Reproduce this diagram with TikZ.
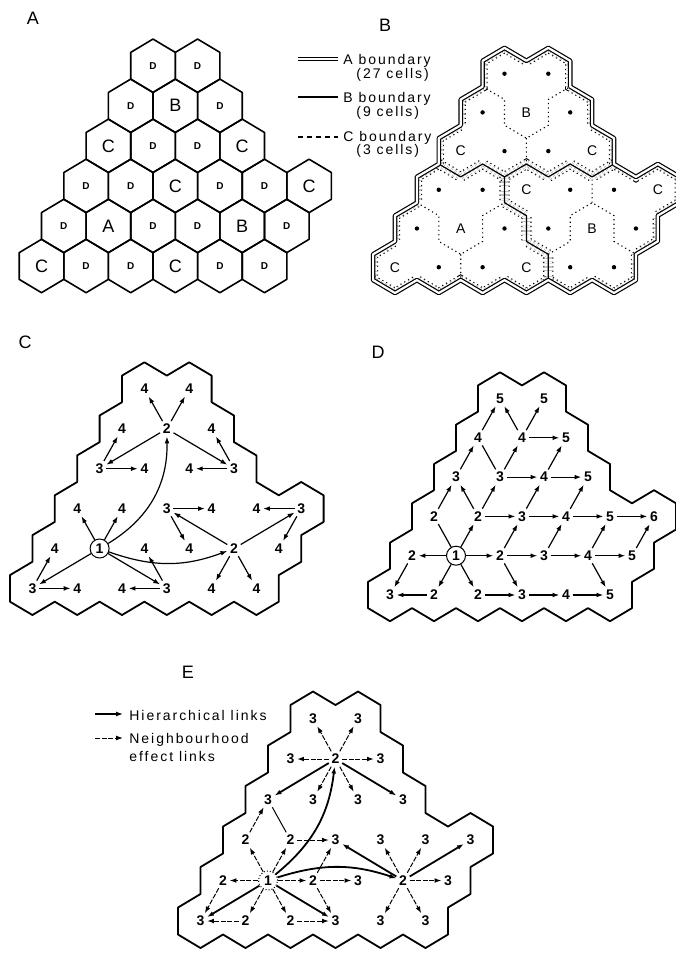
\documentclass[tikz,border=0pt]{standalone}
\usepackage{fontspec}
\setmainfont{Liberation Sans}
\usetikzlibrary{arrows.meta}

% outline of the 27 cells and of one cell, in lattice units
\newcommand{\regionpath}{(-1,-1) -- (-1,1) -- (0,2) -- (0,4) -- (1,5) -- (1,7) -- (2,8) -- (2,10) -- (3,11) -- (3,13) -- (4,14) -- (4,16) -- (5,17) -- (6,16) -- (7,17) -- (8,16) -- (8,14) -- (9,13) -- (9,11) -- (10,10) -- (10,8) -- (11,7) -- (12,8) -- (13,7) -- (13,5) -- (12,4) -- (12,2) -- (11,1) -- (11,-1) -- (10,-2) -- (9,-1) -- (8,-2) -- (7,-1) -- (6,-2) -- (5,-1) -- (4,-2) -- (3,-1) -- (2,-2) -- (1,-1) -- (0,-2) -- cycle}
\newcommand{\hexpath}{(0,2) -- (1,1) -- (1,-1) -- (0,-2) -- (-1,-1) -- (-1,1) -- cycle}

\begin{document}
\begin{tikzpicture}[x=0.5pt, y=-0.5pt, >={Latex[length=3.4pt,width=2.4pt]},
  hx/.style={line width=0.8pt, line join=round},
  rim/.style={line width=0.9pt, line join=round},
  lbl/.style={font=\fontsize{9}{9}\selectfont, inner sep=0pt},
  big/.style={font=\fontsize{9}{9}\selectfont, inner sep=0pt},
  mid/.style={font=\fontsize{7}{7}\selectfont, inner sep=0pt},
  sm/.style={font=\fontsize{5}{5}\selectfont\bfseries, inner sep=0pt},
  dot/.style={circle, fill, inner sep=0pt, minimum size=2.2pt},
  num/.style={font=\fontsize{7}{7}\selectfont\bfseries, inner sep=1.2pt},
  one/.style={num, draw, circle, line width=0.5pt, minimum size=9.5pt, inner sep=0pt},
  lg/.style={font=\fontsize{7}{8}\selectfont\addfontfeature{LetterSpace=14}, inner sep=0pt, anchor=west},
  ab/.style={line width=0.6pt, double, double distance=1.1pt, line join=round},
  bb/.style={line width=0.6pt, line join=round},
  cb/.style={line width=0.55pt, dash pattern=on 0.6pt off 1.6pt},
  cin/.style={cb, double=white, double distance=4pt},
  ar/.style={->, line width=0.6pt},
  ln/.style={line width=0.6pt},
  hl/.style={->, line width=0.9pt},
  nl/.style={->, line width=0.5pt, dash pattern=on 2.5pt off 0.8pt}]
\useasboundingbox (0,0) rectangle (675,953);

% panel letters
\node[lbl] (labA) at (33,18) {A};
\node[lbl] (labB) at (385,25) {B};
\node[lbl] (labC) at (25,342) {C};
\node[lbl] (labD) at (378,352) {D};
\node[lbl] (labE) at (188,672) {E};

% A: the cells
\begin{scope}[shift={(41.5,266)}, x=11.15pt, y=6.675pt]
\foreach \r/\c in {0/1,0/2,0/4,0/5,1/0,1/2,1/3,1/5,2/0,2/1,2/3,2/4,3/1,3/2,4/0,4/2,5/0,5/1}{
  \draw[hx, shift={({2*\c+\r},{3*\r})}] \hexpath;
  \node[sm] (a\r\c) at ({2*\c+\r},{3*\r}) {D};
}
\foreach \r/\c/\l in {0/0/C,0/3/C,1/1/A,1/4/B,2/2/C,2/5/C,3/0/C,3/3/C,4/1/B}{
  \draw[hx, shift={({2*\c+\r},{3*\r})}] \hexpath;
  \node[big] (a\r\c) at ({2*\c+\r},{3*\r}) {\l};
}
\end{scope}

% key of B
\coordinate (kA1) at (298,59); \coordinate (kA2) at (338,59);
\coordinate (kB1) at (298,97); \coordinate (kB2) at (338,97);
\coordinate (kC1) at (298,137); \coordinate (kC2) at (338,137);
\draw[ab] (kA1) -- (kA2);
\draw[bb] (kB1) -- (kB2);
\draw[line width=0.6pt, dash pattern=on 2.5pt off 2pt] (kC1) -- (kC2);
\node[lg] (tA) at (343,61) {A boundary};
\node[lg] (nA) at (356,75) {(27 cells)};
\node[lg] (tB) at (343,99) {B boundary};
\node[lg] (nB) at (356,113) {(9 cells)};
\node[lg] (tC) at (343,138) {C boundary};
\node[lg] (nC) at (356,151) {(3 cells)};

% B: the boundaries
\begin{scope}[shift={(395,267.2)}, x=10.95pt, y=6.45pt]
\begin{scope}
  \clip \regionpath;
  \draw[cin] \regionpath;
\end{scope}
\draw[cin] (2,8) -- (3,7) -- (4,8) -- (5,7) -- (6,8) -- (7,7) -- (8,8) -- (9,7) -- (10,8);
\draw[cin] (5,7) -- (5,5) -- (6,4) -- (6,2) -- (7,1) -- (7,-1);
\draw[cb] (4,14) -- (5,13) -- (5,11) -- (6,10) -- (7,11) -- (7,13) -- (8,14) (6,10) -- (6,8);
\draw[cb] (1,5) -- (2,4) -- (2,2) -- (3,1) -- (4,2) -- (4,4) -- (5,5) (3,1) -- (3,-1);
\draw[cb] (7,1) -- (8,2) -- (8,4) -- (9,5) -- (10,4) -- (10,2) -- (11,1) (9,5) -- (9,7);
\draw[bb] (2,8) -- (3,7) -- (4,8) -- (5,7) -- (6,8) -- (7,7) -- (8,8) -- (9,7) -- (10,8);
\draw[bb] (5,7) -- (5,5) -- (6,4) -- (6,2) -- (7,1) -- (7,-1);
\draw[ab] \regionpath;
\foreach \x/\y in {2/0,4/0,8/0,10/0,1/3,5/3,7/3,11/3,2/6,4/6,8/6,10/6,5/9,7/9,4/12,8/12,5/15,7/15}
  \node[dot] (b\x-\y) at (\x,\y) {};
\foreach \x/\y/\l in {0/0/C,6/0/C,3/3/A,9/3/B,6/6/C,12/6/C,3/9/C,9/9/C,6/12/B}
  \node[mid] (b\x-\y) at (\x,\y) {\l};
\end{scope}

% C: hierarchy
\begin{scope}[shift={(32.4,588.4)}, x=11.2pt, y=6.65pt]
\draw[rim] \regionpath;
\node[one] (c3-3) at (3,3) {1};
\foreach \x/\y/\l in {6/12/2,9/3/2,0/0/3,6/0/3,6/6/3,12/6/3,3/9/3,9/9/3,
    5/15/4,7/15/4,4/12/4,5/9/4,8/12/4,7/9/4,2/6/4,4/6/4,1/3/4,2/0/4,
    5/3/4,4/0/4,8/6/4,7/3/4,10/6/4,11/3/4,8/0/4,10/0/4}
  \node[num] (c\x-\y) at (\x,\y) {\l};
\draw[ar] (c3-3) to[bend right=30] (c6-12);
\draw[ar] (c3-3) to[bend right=20] (c9-3);
\foreach \a/\b in {3-3/2-6,3-3/4-6,3-3/0-0,3-3/6-0,0-0/1-3,0-0/2-0,6-0/5-3,6-0/4-0,
    6-12/5-15,6-12/7-15,6-12/3-9,6-12/9-9,3-9/4-12,3-9/5-9,9-9/8-12,9-9/7-9,
    9-3/6-6,9-3/12-6,9-3/8-0,9-3/10-0,6-6/8-6,6-6/7-3,12-6/10-6,12-6/11-3}
  \draw[ar] (c\a) -- (c\b);
\end{scope}

% D: steps from the centre
\begin{scope}[shift={(390,595)}, x=11pt, y=6.55pt]
\draw[rim] \regionpath;
\node[one] (d3-3) at (3,3) {1};
\foreach \x/\y/\l in {0/0/3,2/0/2,4/0/2,6/0/3,8/0/4,10/0/5,
    1/3/2,5/3/2,7/3/3,9/3/4,11/3/5,
    2/6/2,4/6/2,6/6/3,8/6/4,10/6/5,12/6/6,
    3/9/3,5/9/3,7/9/4,9/9/5,4/12/4,6/12/4,8/12/5,5/15/5,7/15/5}
  \node[num] (d\x-\y) at (\x,\y) {\l};
\foreach \a/\b in {3-3/1-3,3-3/5-3,3-3/2-0,3-3/4-0,3-3/4-6,1-3/0-0,2-0/0-0,
    4-0/6-0,6-0/8-0,8-0/10-0,5-3/7-3,7-3/9-3,9-3/11-3,
    5-3/6-0,5-3/6-6,9-3/10-0,9-3/10-6,11-3/12-6,
    4-6/6-6,6-6/8-6,8-6/10-6,10-6/12-6,7-3/8-6,6-6/7-9,8-6/9-9,
    4-6/5-9,4-6/3-9,2-6/3-9,3-9/4-12,5-9/6-12,5-9/7-9,7-9/9-9,
    4-12/5-15,6-12/5-15,6-12/7-15,6-12/8-12,7-9/8-12}
  \draw[ar] (d\a) -- (d\b);
\draw[ln] (d3-3) -- (d2-6);
\draw[ln] (d5-9) -- (d4-12);
\end{scope}

% key of E
\coordinate (kH1) at (95,714); \coordinate (kH2) at (123,714);
\coordinate (kN1) at (95,738); \coordinate (kN2) at (123,738);
\draw[hl, line width=0.6pt] (kH1) -- (kH2);
\draw[nl] (kN1) -- (kN2);
\node[lg] (tH) at (129,715) {Hierarchical links};
\node[lg] (tN) at (129,740) {Neighbourhood};
\node[lg] (tN2) at (129,756) {effect links};

% E: both kinds of link
\begin{scope}[shift={(200.5,921)}, x=11.25pt, y=6.75pt]
\draw[rim] \regionpath;
\node[one, densely dotted] (e3-3) at (3,3) {1};
\foreach \x/\y/\l in {1/3/2,5/3/2,2/0/2,4/0/2,2/6/2,4/6/2,6/12/2,9/3/2,
    0/0/3,6/0/3,7/3/3,6/6/3,3/9/3,5/15/3,7/15/3,4/12/3,8/12/3,5/9/3,7/9/3,9/9/3,
    8/6/3,10/6/3,12/6/3,11/3/3,8/0/3,10/0/3}
  \node[num] (e\x-\y) at (\x,\y) {\l};
\draw[hl] (e3-3) to[bend right=22] (e6-12);
\draw[hl] (e3-3) to[bend left=18] (e9-3);
\foreach \a/\b in {3-3/0-0,3-3/6-0,6-12/3-9,6-12/9-9,9-3/6-6,9-3/12-6}
  \draw[hl] (e\a) -- (e\b);
\foreach \a/\b in {3-3/1-3,3-3/5-3,3-3/2-0,3-3/4-0,3-3/2-6,3-3/4-6,
    1-3/0-0,2-0/0-0,4-0/6-0,5-3/6-0,5-3/7-3,5-3/6-6,4-6/6-6,2-6/3-9,
    6-12/5-15,6-12/7-15,6-12/4-12,6-12/8-12,6-12/5-9,6-12/7-9,
    9-3/8-6,9-3/10-6,9-3/11-3,9-3/8-0,9-3/10-0}
  \draw[nl] (e\a) -- (e\b);
\draw[ln, line width=0.5pt] (e4-6) -- (e3-9);
\end{scope}
\end{tikzpicture}
\end{document}
